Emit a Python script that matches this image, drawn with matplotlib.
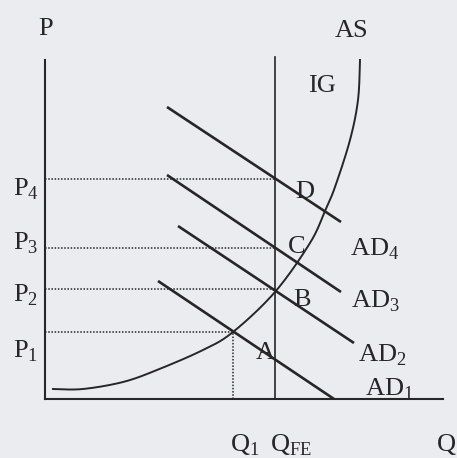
import numpy as np
import matplotlib.pyplot as plt

plt.rcParams['font.family'] = 'Liberation Serif'
plt.rcParams['mathtext.fontset'] = 'custom'
plt.rcParams['mathtext.rm'] = 'Liberation Serif'

# price levels and output levels
p_levels = [6.7, 11.0, 15.1, 22.0]
p_labels = [r'$\mathrm{P}_1$', r'$\mathrm{P}_2$', r'$\mathrm{P}_3$', r'$\mathrm{P}_4$']
q1 = 18.8
q_fe = 23.0

# aggregate supply curve
as_q = [0.8, 3.8, 7.8, 11.2, 15.8, 18.8, 23.0, 26.5, 28.0, 29.0, 30.5, 31.3, 31.5]
as_p = [1.0, 1.0, 1.7, 2.9, 4.9, 6.7, 10.7, 15.6, 18.8, 21.2, 25.9, 29.9, 33.9]

# aggregate demand curves (start, end)
ad_q = [[11.3, 28.9], [13.3, 30.9], [12.2, 29.6], [12.2, 29.6]]
ad_p = [[11.8, 0.0], [17.3, 5.6], [22.4, 10.7], [29.2, 17.7]]
ad_labels = [r'$\mathrm{AD}_1$', r'$\mathrm{AD}_2$', r'$\mathrm{AD}_3$', r'$\mathrm{AD}_4$']
ad_label_pos = [(32.0, 0.3), (31.3, 3.8), (30.6, 9.2), (30.5, 14.3)]

points = ['A', 'B', 'C', 'D']
point_pos = [(21.1, 4.0), (24.8, 9.3), (24.3, 14.6), (25.0, 20.1)]

ink = '#262626'
bg = '#ebecef'


def smooth(xs, ys, n=20):
    # catmull-rom pass through the points so the curve is drawn without kinks
    pts = np.column_stack([xs, ys])
    pts = np.vstack([pts[0], pts, pts[-1]])
    out = []
    t = np.linspace(0, 1, n, endpoint=False)[:, None]
    for i in range(1, len(pts) - 2):
        p0, p1, p2, p3 = pts[i - 1], pts[i], pts[i + 1], pts[i + 2]
        seg = 0.5 * ((2 * p1) + (-p0 + p2) * t + (2 * p0 - 5 * p1 + 4 * p2 - p3) * t ** 2
                     + (-p0 + 3 * p1 - 3 * p2 + p3) * t ** 3)
        out.append(seg)
    out.append(pts[-2][None, :])
    out = np.vstack(out)
    return out[:, 0], out[:, 1]


fig = plt.figure(figsize=(4.57, 4.58), dpi=100, facecolor=bg)
ax = fig.add_axes([45 / 457, 59 / 458, 398 / 457, 339 / 458])
ax.set_facecolor('none')
ax.set_xlim(0, 39.8)
ax.set_ylim(0, 33.9)
for s in ['top', 'right']:
    ax.spines[s].set_visible(False)
for s in ['left', 'bottom']:
    ax.spines[s].set_color(ink)
    ax.spines[s].set_linewidth(1.5)
ax.set_xticks([])
ax.set_yticks([])

# dotted guides
for p in p_levels:
    xe = q1 if p == p_levels[0] else q_fe
    ax.plot([0, xe], [p, p], ls=(0, (1, 1.1)), color=ink, lw=1.1)
ax.plot([q1, q1], [0, p_levels[0]], ls=(0, (1, 1.1)), color=ink, lw=1.1)

# full employment line
ax.plot([q_fe, q_fe], [0, 34.2], color=ink, lw=1.2, clip_on=False)

sx, sy = smooth(as_q, as_p)
ax.plot(sx, sy, color=ink, lw=1.4, clip_on=False)

for q, p in zip(ad_q, ad_p):
    ax.plot(q, p, color=ink, lw=1.9, solid_capstyle='butt')

fs = 19
tk = dict(fontsize=fs, color=ink, clip_on=False, va='baseline', ha='left')
for lab, p in zip(p_labels, [4.2, 9.7, 14.9, 20.4]):
    ax.text(-3.2, p, lab, **tk)
for lab, (x, y) in zip(ad_labels, ad_label_pos):
    ax.text(x, y, lab, **tk)
for lab, (x, y) in zip(points, point_pos):
    ax.text(x, y, lab, **tk)
ax.text(-0.7, 36.4, 'P', **tk)
ax.text(29.0, 36.2, 'AS', **tk)
ax.text(26.3, 30.7, 'IG', **tk)
ax.text(18.5, -5.2, r'$\mathrm{Q}_1$', **tk)
ax.text(22.5, -5.2, r'$\mathrm{Q}_{\mathrm{FE}}$', **tk)
ax.text(39.2, -5.2, 'Q', **tk)

fig.savefig('out.png', dpi=100, facecolor=bg)
